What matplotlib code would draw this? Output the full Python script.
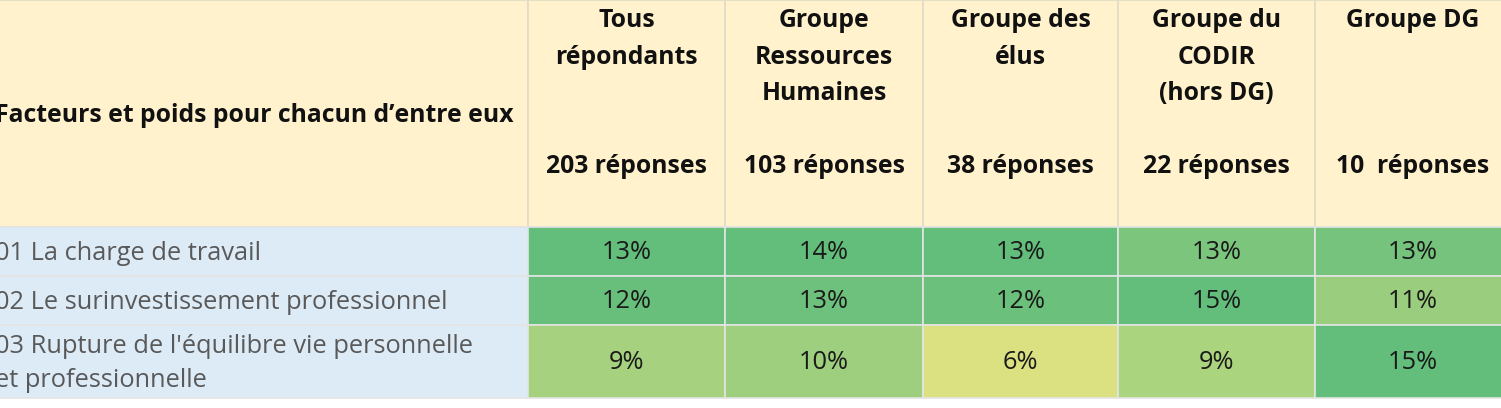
import matplotlib
matplotlib.use("Agg")
import matplotlib.pyplot as plt
from matplotlib.patches import Rectangle

# ---------------- data ----------------
row_header = "Facteurs et poids pour chacun d\u2019entre eux"
groups = ["Tous\nrépondants", "Groupe\nRessources\nHumaines", "Groupe des\nélus",
          "Groupe du\nCODIR\n(hors DG)", "Groupe DG"]
responses = ["203 réponses", "103 réponses", "38 réponses", "22 réponses", "10  réponses"]
factors = ["01 La charge de travail",
           "02 Le surinvestissement professionnel",
           "03 Rupture de l'équilibre vie personnelle\net professionnelle"]
values_tous = [13, 12, 9]
values_rh = [14, 13, 10]
values_elus = [13, 12, 6]
values_codir = [13, 15, 9]
values_dg = [13, 11, 15]

# ---------------- style ----------------
cell_colors = [
    ["#63BE7B", "#63BE7B", "#63BE7B", "#7CC57D", "#75C37C"],
    ["#67BF7B", "#6DC17C", "#6BC07C", "#63BE7B", "#9ACE7E"],
    ["#A6D27F", "#9ECF7E", "#DBE081", "#ABD47F", "#63BE7B"],
]
header_bg = "#FFF2CC"
label_bg = "#DDEBF7"
col_edges = [-20, 528, 725, 923, 1118, 1315, 1530]
row_edges = [0, 227, 276, 325, 398]

W, H = 1501, 408
fig = plt.figure(figsize=(W / 100, H / 100), dpi=100)
ax = fig.add_axes([0, 0, 1, 1])
ax.set_xlim(0, W)
ax.set_ylim(H, 0)
ax.axis("off")

font = "Open Sans"
hsize = 17.8
bsize = 18.3
values = [values_tous, values_rh, values_elus, values_codir, values_dg]

# header row
for c in range(len(col_edges) - 1):
    x0, x1 = col_edges[c], col_edges[c + 1]
    ax.add_patch(Rectangle((x0, row_edges[0]), x1 - x0, row_edges[1] - row_edges[0],
                           facecolor=header_bg, edgecolor="#E2DCC6", lw=1.2))
ax.text(-5, 116, row_header, ha="left", va="center", fontsize=hsize,
        fontweight="bold", family=font, color="#111111")
for c, (g, r) in enumerate(zip(groups, responses)):
    xc = (col_edges[c + 1] + col_edges[c + 2]) / 2
    if c == len(groups) - 1:
        xc = (col_edges[c + 1] + 1501) / 2 + 5
    for i, line in enumerate(g.split("\n")):
        ax.text(xc, 27 + 36.5 * i, line, ha="center", va="baseline", fontsize=hsize,
                fontweight="bold", family=font, color="#111111")
    ax.text(xc, 173, r, ha="center", va="baseline", fontsize=hsize,
            fontweight="bold", family=font, color="#111111")

# body rows
for r, lab in enumerate(factors):
    y0, y1 = row_edges[r + 1], row_edges[r + 2]
    ax.add_patch(Rectangle((col_edges[0], y0), col_edges[1] - col_edges[0], y1 - y0,
                           facecolor=label_bg, edgecolor="#E4E4E4", lw=1.2))
    ax.text(-5, (y0 + y1) / 2 + 2, lab, ha="left", va="center", fontsize=bsize,
            family=font, color="#595959", linespacing=1.45)
    for c in range(len(groups)):
        x0, x1 = col_edges[c + 1], col_edges[c + 2]
        ax.add_patch(Rectangle((x0, y0), x1 - x0, y1 - y0,
                               facecolor=cell_colors[r][c], edgecolor="#E4E4E4", lw=1.2))
        xc = (x0 + x1) / 2
        if c == len(groups) - 1:
            xc = (x0 + 1501) / 2 + 5
        ax.text(xc, (y0 + y1) / 2 + 1, f"{values[c][r]}%", ha="center", va="center",
                fontsize=bsize, family=font, color="#1A1A1A")

fig.savefig("out.png", dpi=100, facecolor="white")
